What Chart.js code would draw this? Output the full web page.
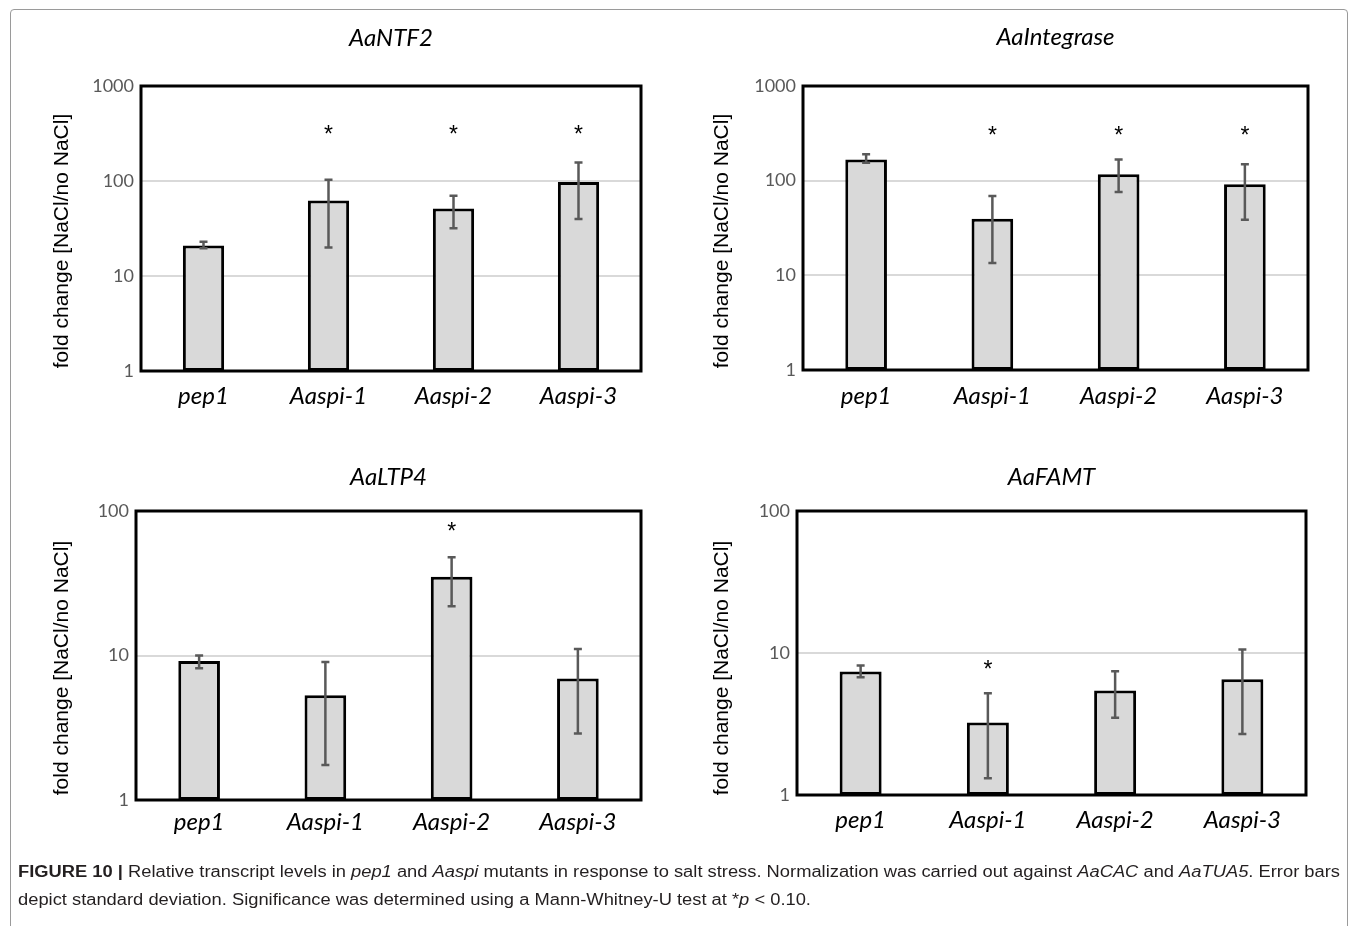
<!DOCTYPE html>
<html>
<head>
<meta charset="utf-8">
<script src="https://cdn.jsdelivr.net/npm/chart.js@4.4.1/dist/chart.umd.min.js"></script>
<style>
  html, body { margin: 0; padding: 0; background: #fff; }
  body { width: 1357px; height: 926px; position: relative; overflow: hidden; }
  #frame { position: absolute; left: 10px; top: 9px; width: 1336px; height: 960px;
           border: 1.5px solid #9a9a9a; border-radius: 4px; }
  canvas { position: absolute; }
  #caption { position: absolute; left: 18px; top: 858px; font-family: "Liberation Sans", Arial, sans-serif;
             font-size: 16px; line-height: 28px; color: #231f20; white-space: nowrap; transform-origin: 0 0; }
</style>
</head>
<body>
<div id="frame"></div>
<canvas id="c1" width="680" height="430" style="left:0;top:0"></canvas>
<canvas id="c2" width="677" height="430" style="left:680px;top:0"></canvas>
<canvas id="c3" width="680" height="430" style="left:0;top:430px"></canvas>
<canvas id="c4" width="677" height="430" style="left:680px;top:430px"></canvas>
<div id="caption"><span id="line1"><b>FIGURE 10 |</b> Relative transcript levels in <i>pep1</i> and <i>Aaspi</i> mutants in response to salt stress. Normalization was carried out against <i>AaCAC</i> and <i>AaTUA5</i>. Error bars</span><br>depict standard deviation. Significance was determined using a Mann-Whitney-U test at *<i>p</i> &lt; 0.10.</div>
<script>
// data (fold change, log axis)
const categories = ['pep1', 'Aaspi-1', 'Aaspi-2', 'Aaspi-3'];
const ticksTo1000 = [1, 10, 100, 1000];
const ticksTo100 = [1, 10, 100];

const ntf2Mean = [21, 62.5, 51.4, 97.6];
const ntf2Low = [19.6, 19.9, 31.9, 39.7];
const ntf2High = [23, 103, 70, 157];
const ntf2Stars = [null, 330, 330, 330];

const integraseMean = [167, 39.6, 117, 91.4];
const integraseLow = [155, 13.5, 76, 38.6];
const integraseHigh = [190, 69, 167, 149];
const integraseStars = [null, 320, 320, 320];

const ltp4Mean = [9.16, 5.31, 35.1, 6.94];
const ltp4Low = [8.15, 1.75, 21.9, 2.88];
const ltp4High = [10, 9.0, 47.9, 11.1];
const ltp4Stars = [null, null, 75, null];

const famtMean = [7.41, 3.24, 5.44, 6.54];
const famtLow = [6.75, 1.31, 3.50, 2.69];
const famtHigh = [8.18, 5.2, 7.45, 10.6];
const famtStars = [null, 8.0, null, null];

// error bars, asterisks, plot frame and the rotated y title
const extras = {
  id: 'extras',
  afterDatasetsDraw(chart, args, opts) {
    const { ctx, chartArea: a, scales: { x, y } } = chart;
    const ds = chart.data.datasets[0];
    ctx.save();
    ctx.strokeStyle = '#595959';
    ctx.lineWidth = 2.5;
    ds.errLow.forEach((lo, i) => {
      const px = x.getPixelForValue(i);
      const y1 = y.getPixelForValue(lo);
      const y2 = y.getPixelForValue(ds.errHigh[i]);
      ctx.beginPath();
      ctx.moveTo(px, y1); ctx.lineTo(px, y2);
      ctx.moveTo(px - 4, y1); ctx.lineTo(px + 4, y1);
      ctx.moveTo(px - 4, y2); ctx.lineTo(px + 4, y2);
      ctx.stroke();
    });
    ctx.fillStyle = '#000';
    ctx.font = '23px "Liberation Sans", Arial';
    ctx.textAlign = 'center';
    ctx.textBaseline = 'alphabetic';
    ds.stars.forEach((s, i) => {
      if (s == null) return;
      ctx.fillText('*', x.getPixelForValue(i), y.getPixelForValue(s) + 10);
    });
    ctx.strokeStyle = '#000';
    ctx.lineWidth = 3;
    ctx.strokeRect(a.left, a.top, a.width, a.height);

    ctx.translate(opts.labelX, opts.labelY);
    ctx.rotate(-Math.PI / 2);
    ctx.font = '21px "Liberation Sans", Arial';
    ctx.textBaseline = 'middle';
    ctx.fillText('fold change [NaCl/no NaCl]', 0, 0);
    ctx.restore();
  }
};

function makeChart(id, p) {
  return new Chart(document.getElementById(id), {
    type: 'bar',
    data: {
      labels: categories,
      datasets: [{
        data: p.mean,
        errLow: p.low,
        errHigh: p.high,
        stars: p.stars,
        backgroundColor: '#d9d9d9',
        borderColor: '#000',
        borderWidth: 3,
        borderSkipped: false,
        barPercentage: 0.33,
        categoryPercentage: 1
      }]
    },
    options: {
      responsive: false,
      animation: false,
      layout: { padding: { left: 0, right: p.right, top: 0, bottom: 0 } },
      plugins: {
        legend: { display: false },
        tooltip: { enabled: false },
        title: {
          display: true,
          text: p.title,
          fullSize: false,
          color: '#000',
          font: { family: 'Lato', style: 'italic', size: 24, weight: 'normal' },
          padding: { top: p.titleTop, bottom: p.top - p.titleTop - 28.8 }
        },
        extras: { labelX: p.labelX, labelY: p.labelY }
      },
      scales: {
        x: {
          grid: { display: false },
          border: { display: false },
          ticks: { color: '#000', padding: p.xPad, font: { family: 'Lato', style: 'italic', size: 24 } },
          afterFit: s => { s.height = p.bottom; }
        },
        y: {
          type: 'logarithmic',
          min: 1,
          max: p.ticks[p.ticks.length - 1],
          grid: { color: '#d9d9d9', lineWidth: 2, drawTicks: false },
          border: { display: false },
          ticks: { color: '#595959', padding: 7, font: { family: 'Lato', size: 18 }, callback: v => String(v) },
          afterBuildTicks: s => { s.ticks = p.ticks.map(v => ({ value: v })); },
          afterFit: s => { s.width = p.left; }
        }
      }
    },
    plugins: [extras]
  });
}

makeChart('c1', { title: 'AaNTF2', mean: ntf2Mean, low: ntf2Low, high: ntf2High, stars: ntf2Stars,
  ticks: ticksTo1000, left: 141, right: 39, top: 86, titleTop: 23.6, bottom: 59, xPad: 3, labelX: 62, labelY: 241 });
makeChart('c2', { title: 'AaIntegrase', mean: integraseMean, low: integraseLow, high: integraseHigh, stars: integraseStars,
  ticks: ticksTo1000, left: 123, right: 49, top: 86, titleTop: 22.6, bottom: 60, xPad: 4, labelX: 42, labelY: 241 });
makeChart('c3', { title: 'AaLTP4', mean: ltp4Mean, low: ltp4Low, high: ltp4High, stars: ltp4Stars,
  ticks: ticksTo100, left: 136, right: 39, top: 81, titleTop: 32.6, bottom: 60, xPad: 0, labelX: 62, labelY: 238 });
makeChart('c4', { title: 'AaFAMT', mean: famtMean, low: famtLow, high: famtHigh, stars: famtStars,
  ticks: ticksTo100, left: 117, right: 51, top: 81, titleTop: 32.6, bottom: 65, xPad: 3, labelX: 42, labelY: 238 });

// stretch caption so the first line spans the same width as in the figure
const cap = document.getElementById('caption');
const w = document.getElementById('line1').getBoundingClientRect().width;
cap.style.transform = 'scaleX(' + (1322 / w) + ')';
</script>
</body>
</html>
